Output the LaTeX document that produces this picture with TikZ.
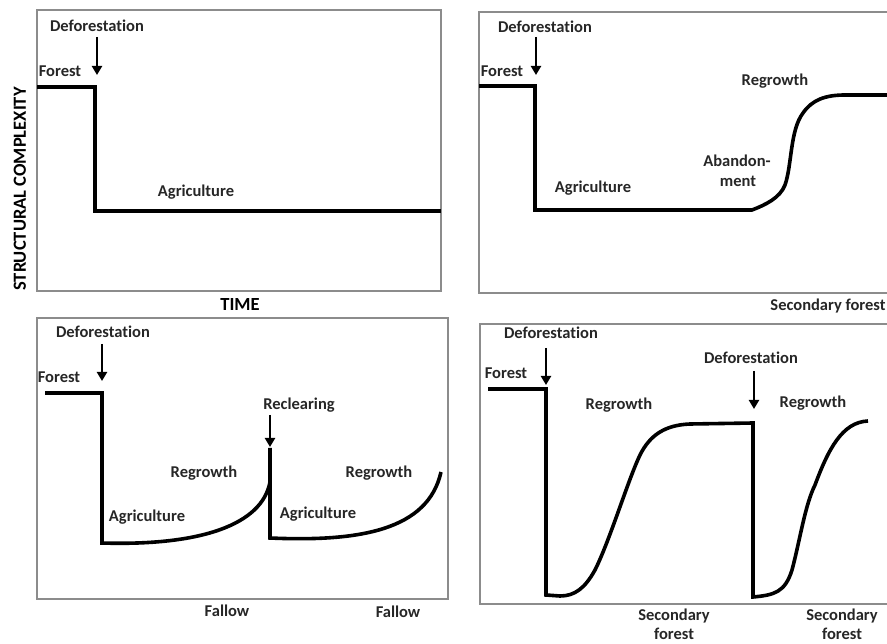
\documentclass[tikz,border=0pt]{standalone}
\usepackage{fontspec}
\setmainfont{Carlito}[Ligatures=CommonOff]
\usetikzlibrary{arrows.meta}
\begin{document}
\begin{tikzpicture}[x=1pt,y=-1pt,
  frame/.style={draw=black!45,line width=1.2pt},
  curve/.style={line width=3.6pt,line join=miter},
  darrow/.style={line width=2.8pt,-{Triangle[width=10pt,length=9pt]}},
  lbl/.style={font=\bfseries\fontsize{16.5}{18}\selectfont,inner sep=0pt,text=black!85},
  big/.style={font=\bfseries\fontsize{18.5}{20}\selectfont,inner sep=0pt}]
\useasboundingbox (0,0) rectangle (887,644);
% ---------- Panel 1 ----------
\draw[frame] (37,10) rectangle (441,291);
\node[lbl] (p1def) at (97,26) {Deforestation};
\node[lbl] (p1for) at (60,71) {Forest};
\node[lbl] (p1agr) at (196,192) {Agriculture};
\coordinate (p1a) at (97,37);
\coordinate (p1b) at (97,75);
\draw[darrow] (p1a) -- (p1b);
\draw[curve] (37,87) -- (95,87) -- (95,211) -- (441,211);
\node[big,rotate=90] (ylab) at (20,189) {STRUCTURAL COMPLEXITY};
\node[big] (time) at (240,305) {TIME};
% ---------- Panel 2 ----------
\draw[frame] (479,12) rectangle (892,293);
\node[lbl] (p2def) at (545,27) {Deforestation};
\node[lbl] (p2for) at (502,71) {Forest};
\node[lbl] (p2agr) at (593,188) {Agriculture};
\node[lbl] (p2ab1) at (737,161) {Abandon-};
\node[lbl] (p2ab2) at (738,181) {ment};
\node[lbl] (p2reg) at (775,81) {Regrowth};
\node[lbl] (p2sec) at (828,306) {Secondary forest};
\coordinate (p2a) at (536,37);
\coordinate (p2b) at (536,75);
\draw[darrow] (p2a) -- (p2b);
\draw[curve] (479,86) -- (535,86) -- (535,210) -- (752,210)
  .. controls (765,205) and (780,198) .. (785,185)
  .. controls (792,165) and (790,130) .. (803,113)
  .. controls (812,100) and (825,95) .. (845,95) -- (892,95);
% ---------- Panel 3 ----------
\draw[frame] (37,318) rectangle (448,599);
\node[lbl] (p3def) at (103,332) {Deforestation};
\node[lbl] (p3for) at (59,377) {Forest};
\node[lbl] (p3rec) at (299,405) {Reclearing};
\node[lbl] (p3rg1) at (204,473) {Regrowth};
\node[lbl] (p3rg2) at (379,473) {Regrowth};
\node[lbl] (p3ag1) at (147,517) {Agriculture};
\node[lbl] (p3ag2) at (318,514) {Agriculture};
\node[lbl] (p3fa1) at (227,611) {Fallow};
\node[lbl] (p3fa2) at (398,612) {Fallow};
\coordinate (p3a) at (102,344);
\coordinate (p3b) at (102,381);
\draw[darrow] (p3a) -- (p3b);
\coordinate (p3c) at (270,415);
\coordinate (p3d) at (270,447);
\draw[darrow] (p3c) -- (p3d);
\draw[curve] (45,393) -- (102,393) -- (102,543)
  .. controls (200,546) and (262,525) .. (270,482) -- (270,450);
\draw[curve] (270,448) -- (270,538)
  .. controls (360,542) and (428,530) .. (441,472);
% ---------- Panel 4 ----------
\draw[frame] (480,324) rectangle (892,604);
\node[lbl] (p4def) at (551,333) {Deforestation};
\node[lbl] (p4for) at (506,373) {Forest};
\node[lbl] (p4rg1) at (619,405) {Regrowth};
\node[lbl] (p4de2) at (751,358) {Deforestation};
\node[lbl] (p4rg2) at (813,403) {Regrowth};
\node[lbl,align=center,font=\bfseries\fontsize{16.5}{19}\selectfont] (p4sf1) at (674,624) {Secondary\\forest};
\node[lbl,align=center,font=\bfseries\fontsize{16.5}{19}\selectfont] (p4sf2) at (842,624) {Secondary\\forest};
\coordinate (p4a) at (546,348);
\coordinate (p4b) at (546,385);
\draw[darrow] (p4a) -- (p4b);
\coordinate (p4c) at (754,371);
\coordinate (p4d) at (754,409);
\draw[darrow] (p4c) -- (p4d);
\draw[curve] (488,389) -- (546,389) -- (546,595) -- (560,596)
  .. controls (575,596) and (585,588) .. (595,570)
  .. controls (610,540) and (628,480) .. (640,455)
  .. controls (650,435) and (665,425) .. (690,424) -- (753,423)
  -- (753,597)
  .. controls (775,595) and (785,592) .. (792,570)
  .. controls (800,540) and (805,505) .. (815,485)
  .. controls (828,450) and (842,422) .. (868,421);
\end{tikzpicture}
\end{document}
